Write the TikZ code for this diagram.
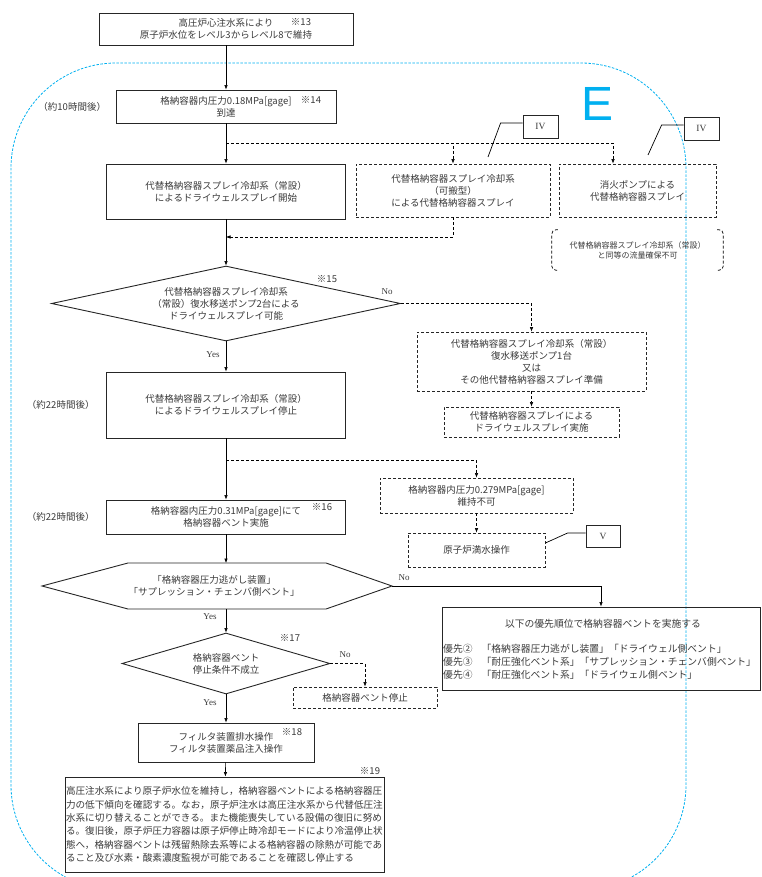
\documentclass[tikz,border=0pt]{standalone}
\usepackage{fontspec}
\setmainfont{Noto Sans CJK JP}
\newfontfamily\lat{Liberation Serif}
\newfontfamily\esans{Liberation Sans}
\usetikzlibrary{arrows.meta,positioning,shapes.geometric,calc}
\definecolor{eb}{HTML}{00B0F0}
\definecolor{tx}{HTML}{3A3A3A}

\begin{document}
\begin{tikzpicture}[x=1pt,y=-1pt,font=\fontsize{9.5}{12}\selectfont,text=tx,
  bx/.style={draw=black!85,line width=0.9pt,inner sep=0pt,align=center},
  dbx/.style={bx,densely dashed,line width=0.8pt},
  dm/.style={draw=black!85,diamond,line width=0.9pt,inner sep=0pt,align=center},
  cal/.style={draw=black!85,line width=0.8pt,minimum width=35pt,minimum height=23pt,inner sep=0pt,font=\lat\fontsize{9.5}{10}\selectfont},
  ar/.style={-{Latex[length=4.5pt,width=3.5pt]},line width=0.6pt},
  dar/.style={ar,densely dashed},
  ld/.style={line width=0.7pt},
  yn/.style={font=\lat\fontsize{9}{10}\selectfont},
  nt/.style={font=\fontsize{8}{10}\selectfont}]
\useasboundingbox (0,0) rectangle (762,877);
% area E
\begin{scope}
\clip (0,0) rectangle (762,877);
\draw[eb,line width=0.8pt,dash pattern=on 2.5pt off 1.5pt,rounded corners=105pt] (11,63) rectangle (686,890);
\end{scope}
\node[font=\esans\fontsize{48}{48}\selectfont,text=eb] (E) at (597,104) {E};

% main column
\node[bx,minimum width=254pt,minimum height=32pt] (top) at (226,29) {高圧炉心注水系により\\原子炉水位をレベル3からレベル8で維持};
\node (s13) at (301,22) {※13};
\node[bx,minimum width=220pt,minimum height=33pt] (t18) at (226,106.5) {格納容器内圧力0.18MPa[gage]\\到達};
\node (s14) at (311,100) {※14};
\node[left=6pt of t18] (h10) {（約10時間後）};
\node[bx,minimum width=239pt,minimum height=55pt] (kai) at (226,191.5) {代替格納容器スプレイ冷却系（常設）\\によるドライウェルスプレイ開始};
\node[dbx,minimum width=194pt,minimum height=53pt] (kah) at (453,190.5) {代替格納容器スプレイ冷却系\\（可搬型）\\による代替格納容器スプレイ};
\node[dbx,minimum width=157pt,minimum height=53pt] (sho) at (637.5,190.5) {消火ポンプによる\\代替格納容器スプレイ};
\node[cal] (iv1) at (540.5,126.5) {IV};
\node[cal] (iv2) at (701.5,128.5) {IV};
\node[nt,minimum width=171pt,minimum height=40pt,inner sep=0pt,align=center] (note) at (637.5,250) {代替格納容器スプレイ冷却系（常設）\\と同等の流量確保不可};
\node[dm,aspect=4.65,minimum width=349pt,minimum height=75pt] (d1) at (226,303.5) {代替格納容器スプレイ冷却系\\（常設）復水移送ポンプ2台による\\ドライウェルスプレイ可能};
\node (s15) at (327,279) {※15};
\node[yn] (no1) at (387,292) {No};
\node[dbx,minimum width=229pt,minimum height=59pt] (jun) at (531.5,361.5) {代替格納容器スプレイ冷却系（常設）\\復水移送ポンプ1台\\又は\\その他代替格納容器スプレイ準備};
\node[dbx,minimum width=175pt,minimum height=30pt] (jis) at (531.5,422) {代替格納容器スプレイによる\\ドライウェルスプレイ実施};
\node[yn] (yes1) at (213,355) {Yes};
\node[bx,minimum width=239pt,minimum height=66pt] (tei) at (226,405) {代替格納容器スプレイ冷却系（常設）\\によるドライウェルスプレイ停止};
\node[left=8pt of tei] (h22a) {（約22時間後）};
\node[dbx,minimum width=193pt,minimum height=35pt] (t279) at (476.5,495.5) {格納容器内圧力0.279MPa[gage]\\維持不可};
\node[dbx,minimum width=137pt,minimum height=34pt] (man) at (476.5,550) {原子炉満水操作};
\node[cal,minimum width=34pt,minimum height=22pt] (v) at (603,536) {V};
\node[bx,minimum width=239pt,minimum height=34pt] (t31) at (226,517) {格納容器内圧力0.31MPa[gage]にて\\格納容器ベント実施};
\node (s16) at (322,507) {※16};
\node[left=8pt of t31] (h22b) {（約22時間後）};

% vent selection
\coordinate (hw) at (42,586);
\coordinate (hnw) at (128,563);
\coordinate (hne) at (326,563);
\coordinate (hexE) at (392,586);
\coordinate (hse) at (326,609);
\coordinate (hsw) at (128,609);
\coordinate (hexN) at (226,563);
\coordinate (hexS) at (226,609);
\draw[draw=black!85,line width=0.9pt] (hw) -- (hnw) -- (hne) -- (hexE) -- (hse) -- (hsw) -- cycle;
\node[align=center] (hex) at (214,586) {「格納容器圧力逃がし装置」\\「サプレッション・チェンバ側ベント」};
\node[yn] (no2) at (404,578) {No};
\node[bx,minimum width=318pt,minimum height=83pt] (yu) at (601,648.5) {};
\node[font=\fontsize{9.8}{12}\selectfont] (yut) at (603,624) {以下の優先順位で格納容器ベントを実施する};
\node[anchor=west,align=left,inner sep=0pt,font=\fontsize{9.8}{13}\selectfont] (yul) at (443,662) {優先②\hspace{9pt}「格納容器圧力逃がし装置」「ドライウェル側ベント」\\優先③\hspace{9pt}「耐圧強化ベント系」「サプレッション・チェンバ側ベント」\\優先④\hspace{9pt}「耐圧強化ベント系」「ドライウェル側ベント」};
\node[yn] (yes2) at (210,617) {Yes};
\node[dm,aspect=3.41,minimum width=208pt,minimum height=61pt] (d2) at (226,663.5) {格納容器ベント\\停止条件不成立};
\node (s17) at (290,638) {※17};
\node[yn] (no3) at (345,655) {No};
\node[dbx,minimum width=144pt,minimum height=21pt] (vst) at (365,697.5) {格納容器ベント停止};
\node[yn] (yes3) at (210,703) {Yes};
\node[bx,minimum width=176pt,minimum height=39pt] (fil) at (226,742.5) {フィルタ装置排水操作\\フィルタ装置薬品注入操作};
\node (s18) at (292,732) {※18};
\node[bx,text width=317pt,inner xsep=1pt,minimum height=95pt,align=left,font=\fontsize{9.6}{13.3}\selectfont] (fin) at (224.5,824.5) {高圧注水系により原子炉水位を維持し，格納容器ベントによる格納容器圧\\力の低下傾向を確認する。なお，原子炉注水は高圧注水系から代替低圧注\\水系に切り替えることができる。また機能喪失している設備の復旧に努め\\る。復旧後，原子炉圧力容器は原子炉停止時冷却モードにより冷温停止状\\態へ，格納容器ベントは残留熱除去系等による格納容器の除熱が可能であ\\ること及び水素・酸素濃度監視が可能であることを確認し停止する};
\node (s19) at (370,771) {※19};

% connectors
\coordinate (b1) at (226,143);
\coordinate (r1) at (226,237);
\coordinate (b2) at (226,460);
\draw[ar] (top) -- (t18);
\draw[ar] (t18) -- (kai);
\draw[dar] (b1) -| (kah);
\draw[dar] (b1) -| ([xshift=-24.5pt]sho.north);
\draw[dar] (kah) |- (r1);
\draw[ar] (kai) -- (d1);
\draw[dar] (d1) -| (jun);
\draw[dar] (jun) -- (jis);
\draw[ar] (d1) -- (tei);
\draw[dar] (b2) -| (t279);
\draw[dar] (t279) -- (man);
\draw[ar] (tei) -- (t31);
\draw[ar] (t31) -- (hexN);
\draw[ar] (hexE) -| (yu);
\draw[ar] (hexS) -- (d2);
\draw[dar] (d2) -| (vst);
\draw[ar] (d2) -- (fil);
\draw[ar] (fil) -- (fin);

% callouts
\coordinate (l1) at (488,157);
\coordinate (l2) at (648,155);
\draw[ld] ([yshift=3.5pt]iv1.west) -- ++(-22,0) -- (l1);
\draw[ld] ([yshift=3.5pt]iv2.west) -- ++(-22,0) -- (l2);
\draw[ld] ([yshift=3pt]v.west) -- ++(-18,0) -- ([yshift=7pt]man.east);
\draw[ld,densely dashed,rounded corners=4pt] ([xshift=6pt]note.north west) -- (note.north west) -- (note.south west) -- ([xshift=6pt]note.south west);
\draw[ld,densely dashed,rounded corners=4pt] ([xshift=-6pt]note.north east) -- (note.north east) -- (note.south east) -- ([xshift=-6pt]note.south east);
\end{tikzpicture}
\end{document}
